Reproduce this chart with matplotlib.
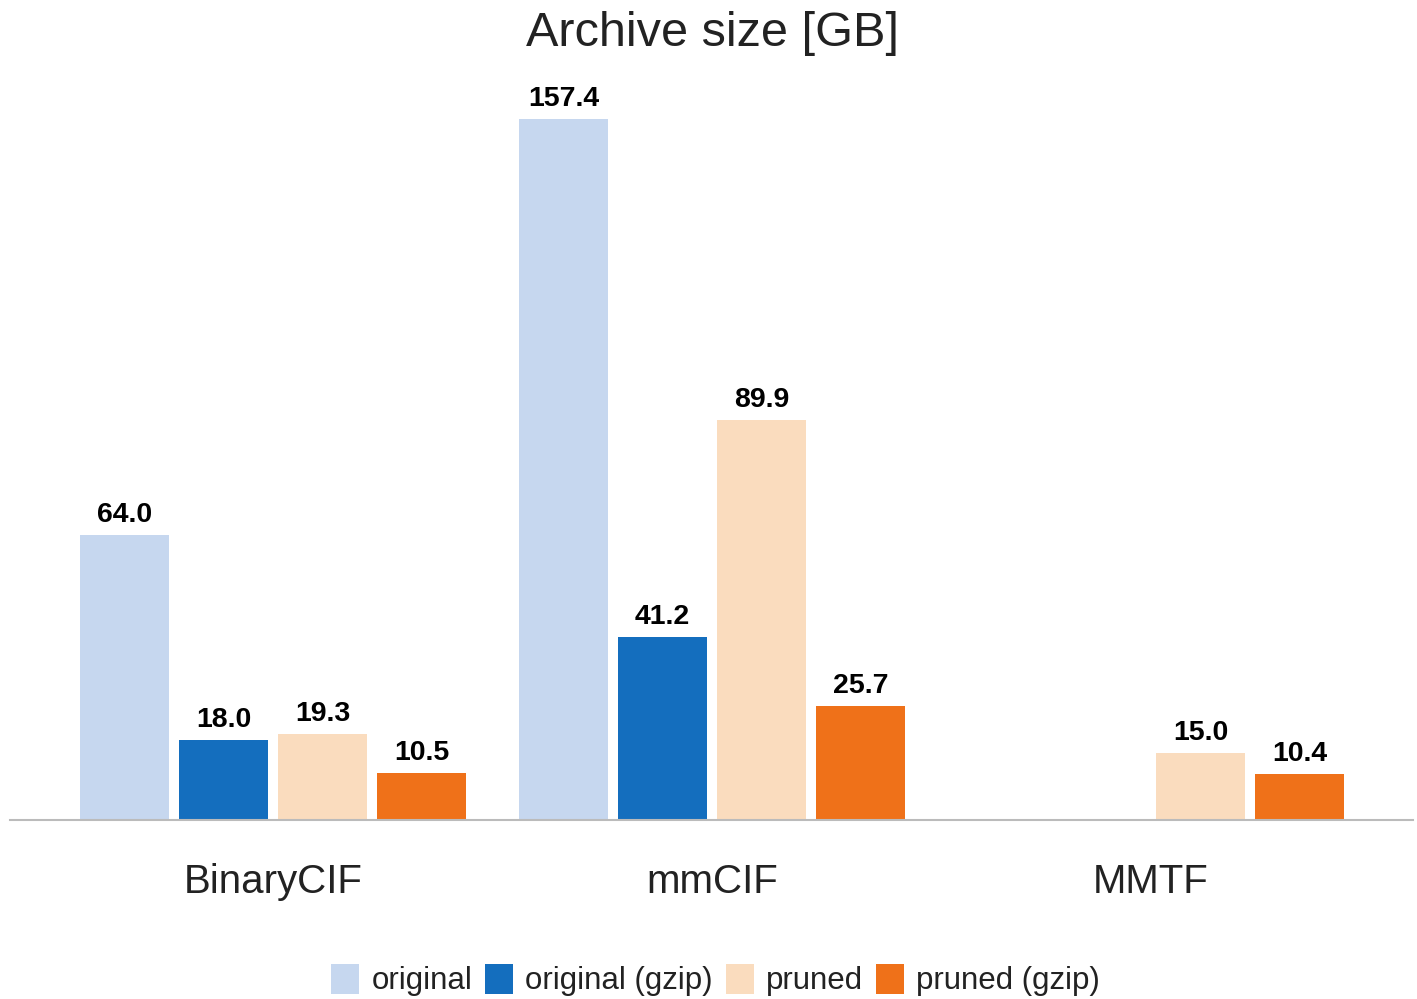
import numpy as np
import matplotlib.pyplot as plt

plt.rcParams['font.family'] = ['Liberation Sans', 'DejaVu Sans']

formats = ['BinaryCIF', 'mmCIF', 'MMTF']
series_names = ['original', 'original (gzip)', 'pruned', 'pruned (gzip)']
original = [64.0, 157.4, np.nan]
original_gzip = [18.0, 41.2, np.nan]
pruned = [19.3, 89.9, 15.0]
pruned_gzip = [10.5, 25.7, 10.4]
colors = ['#C6D7EF', '#146EBE', '#FADCBE', '#EF7119']

series = [original, original_gzip, pruned, pruned_gzip]

fig = plt.figure(figsize=(14.17, 9.99), dpi=100)
ax = fig.add_axes([10 / 1417, 179 / 999, 1403 / 1417, 730 / 999])

x = np.arange(len(formats))
slot = 0.2255
width = 0.2027
for i, (name, vals, c) in enumerate(zip(series_names, series, colors)):
    pos = x + (i - 1.5) * slot
    bars = ax.bar(pos, vals, width, color=c, label=name)
    for b, v in zip(bars, vals):
        if np.isnan(v):
            continue
        ax.annotate(f'{v:.1f}', (b.get_x() + b.get_width() / 2, v),
                    xytext=(0, 5), textcoords='offset points',
                    ha='center', va='bottom', fontsize=20.5,
                    fontweight='bold', color='black')

ax.set_xlim(-0.599, 2.597)
ax.set_ylim(0, 164)
ax.set_xticks(x)
ax.set_xticklabels(formats, fontsize=29, color='#222222')
ax.tick_params(axis='x', length=0, pad=31)
ax.set_yticks([])
for s in ['top', 'left', 'right']:
    ax.spines[s].set_visible(False)
ax.spines['bottom'].set_color('#BBBBBB')
ax.spines['bottom'].set_linewidth(1.5)

fig.text(0.503, 0.966, 'Archive size [GB]', ha='center', va='center',
         fontsize=35, color='#222222')

fig.legend(loc='center', bbox_to_anchor=(0.505, 0.019), ncol=4,
           frameon=False, fontsize=22.5, handlelength=0.9, handleheight=1.1,
           handletextpad=0.4, columnspacing=0.4, labelcolor='#222222')

fig.savefig('out.png', dpi=100)
